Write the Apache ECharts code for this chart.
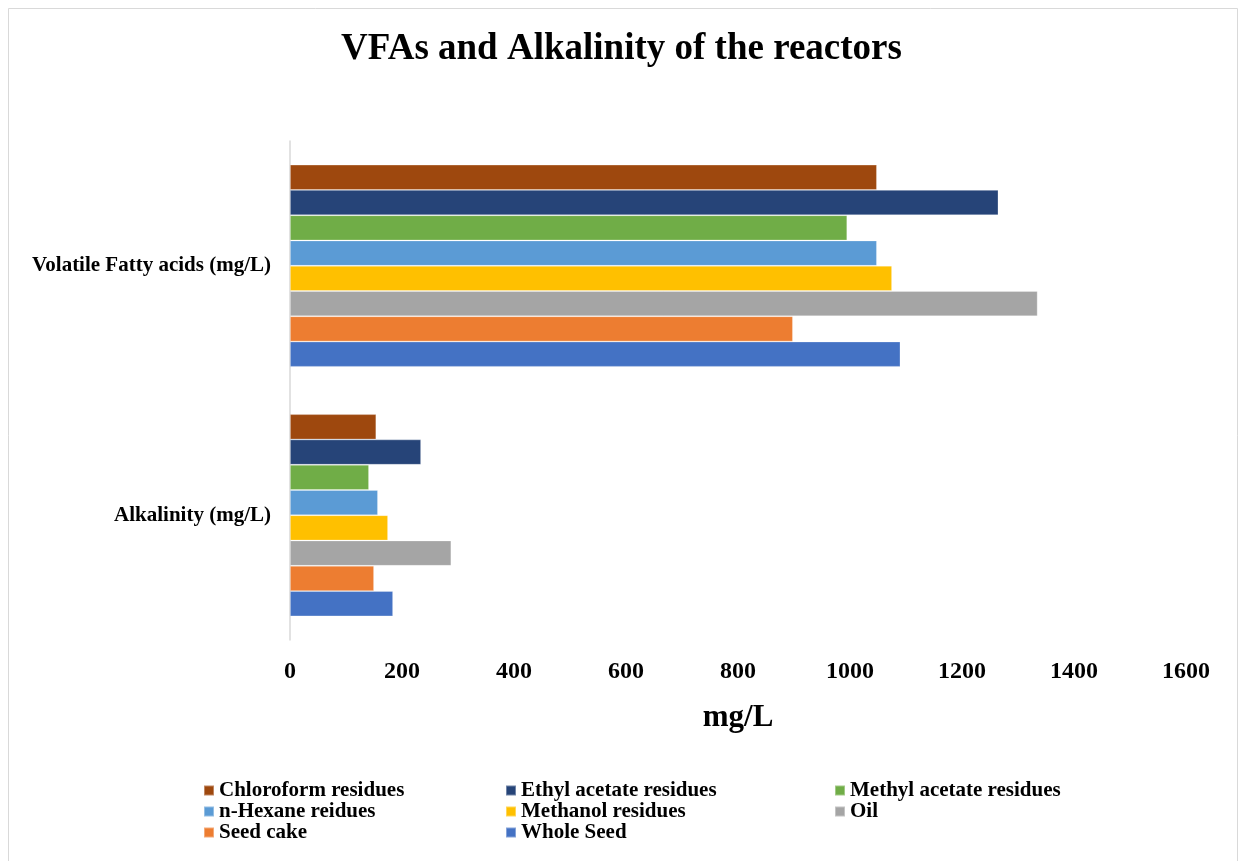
<!DOCTYPE html>
<html>
<head>
<meta charset="utf-8">
<script src="https://cdn.jsdelivr.net/npm/echarts@6/dist/echarts.min.js"></script>
<style>
html,body{margin:0;padding:0;background:#fff;}
#chart{width:1243px;height:861px;}
</style>
</head>
<body>
<div id="chart"></div>
<script>
// Parameters measured on each reactor (bottom to top on the category axis)
const categories = ['Alkalinity (mg/L)', 'Volatile Fatty acids (mg/L)'];

// One array per feedstock: [alkalinity, VFAs]
const wholeSeed      = [184, 1090];
const seedCake       = [150, 898];
const oil            = [288, 1335];
const methanolRes    = [175, 1075];
const nHexaneRes     = [157, 1048];
const methylAcetRes  = [141, 995];
const ethylAcetRes   = [234, 1265];
const chloroformRes  = [154, 1048];

const xTicks = { min: 0, max: 1600, interval: 200 };

// Listed top-to-bottom inside each cluster
const seriesDefs = [
  { name: 'Chloroform residues', data: chloroformRes, color: '#9E480E' },
  { name: 'Ethyl acetate residues', data: ethylAcetRes, color: '#264478' },
  { name: 'Methyl acetate residues', data: methylAcetRes, color: '#70AD47' },
  { name: 'n-Hexane reidues', data: nHexaneRes, color: '#5B9BD5' },
  { name: 'Methanol residues', data: methanolRes, color: '#FFC000' },
  { name: 'Oil', data: oil, color: '#A5A5A5' },
  { name: 'Seed cake', data: seedCake, color: '#ED7D31' },
  { name: 'Whole Seed', data: wholeSeed, color: '#4472C4' }
];

const serif = '"Liberation Serif", "Times New Roman", serif';
const legendText = { fontFamily: serif, fontWeight: 'bold', fontSize: 21, color: '#000', lineHeight: 21 };

function legendColumn(left, names) {
  return {
    left: left, top: 780, orient: 'vertical', itemGap: 0,
    itemWidth: 10, itemHeight: 10, icon: 'rect',
    data: names, textStyle: legendText, padding: 0
  };
}

const chart = echarts.init(document.getElementById('chart'));
chart.setOption({
  animation: false,
  backgroundColor: '#fff',
  title: {
    text: 'VFAs and Alkalinity of the reactors',
    left: 'center', top: 26,
    textStyle: { fontFamily: serif, fontWeight: 'bold', fontSize: 37, color: '#000' }
  },
  graphic: [{
    type: 'rect', shape: { x: 8.5, y: 8.5, width: 1229, height: 870 },
    style: { fill: 'none', stroke: '#D9D9D9', lineWidth: 1 }, silent: true
  }],
  legend: [
    legendColumn(203, ['Chloroform residues', 'n-Hexane reidues', 'Seed cake']),
    legendColumn(505, ['Ethyl acetate residues', 'Methanol residues', 'Whole Seed']),
    legendColumn(834, ['Methyl acetate residues', 'Oil'])
  ],
  grid: { left: 290, right: 57, top: 141, bottom: 221, containLabel: false },
  xAxis: {
    type: 'value', min: xTicks.min, max: xTicks.max, interval: xTicks.interval,
    name: 'mg/L', nameLocation: 'middle', nameGap: 62,
    nameTextStyle: { fontFamily: serif, fontWeight: 'bold', fontSize: 31, color: '#000' },
    axisLine: { show: false }, axisTick: { show: false }, splitLine: { show: false },
    axisLabel: { margin: 20, fontFamily: serif, fontWeight: 'bold', fontSize: 24, color: '#000',
      formatter: v => String(v) }
  },
  yAxis: {
    type: 'category', data: categories,
    axisLine: { show: true, lineStyle: { color: '#D9D9D9', width: 1.5 } },
    axisTick: { show: false },
    axisLabel: { margin: 19, fontFamily: serif, fontWeight: 'bold', fontSize: 21, color: '#000' }
  },
  series: seriesDefs.map(s => ({
    name: s.name, type: 'bar', data: s.data,
    barGap: '0%', barCategoryGap: '19%',
    itemStyle: { color: s.color, borderColor: 'rgba(255,255,255,0.35)', borderWidth: 0.8 }
  }))
});
</script>
</body>
</html>
